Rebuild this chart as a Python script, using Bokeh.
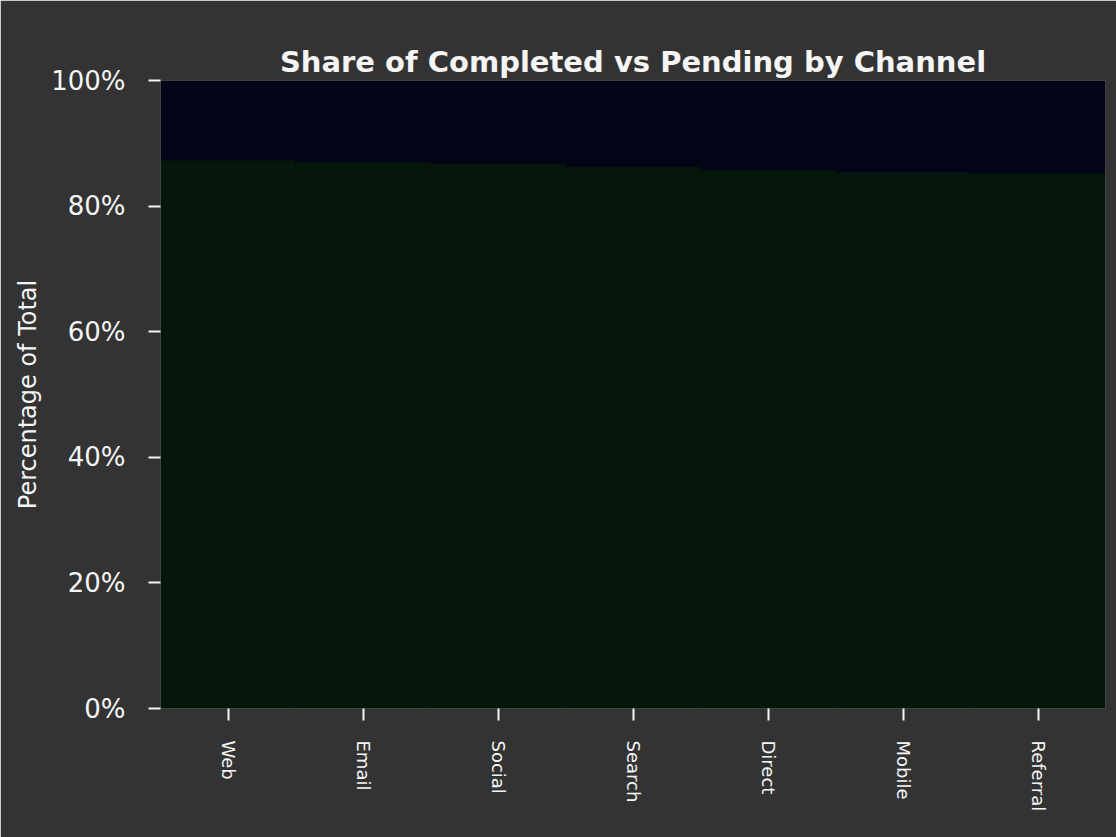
from bokeh.plotting import figure
from bokeh.models import ColumnDataSource, Range1d, FixedTicker, PrintfTickFormatter
from bokeh.embed import file_html
from bokeh.resources import INLINE

# ---- data ----
categories = ["Web", "Email", "Social", "Search", "Direct", "Mobile", "Referral"]
completed = [87.3, 87.0, 86.8, 86.3, 85.7, 85.4, 85.2]
pending = [12.7, 13.0, 13.2, 13.7, 14.3, 14.6, 14.8]
y_ticks = [0, 20, 40, 60, 80, 100]

series = ["completed", "pending"]
colors = ["#05170b", "#020517"]

source = ColumnDataSource(dict(cat=categories, completed=completed, pending=pending))

TEXT = "#f5f5f5"
BG = "#333333"

p = figure(
    x_range=categories,
    y_range=Range1d(0, 100),
    frame_width=945,
    frame_height=628,
    min_border_left=160,
    min_border_right=11,
    min_border_top=80,
    min_border_bottom=129,
    background_fill_color=BG,
    border_fill_color=BG,
    outline_line_color=None,
    output_backend="svg",
    toolbar_location=None,
    title="Share of Completed vs Pending by Channel",
)

p.vbar_stack(series, x="cat", width=1.0, source=source, fill_color=colors,
             line_color="#000000", line_alpha=0.3, line_width=1)

p.title.align = "center"
p.title.text_color = TEXT
p.title.text_font = "DejaVu Sans"
p.title.text_font_size = "29px"
p.title.text_font_style = "bold"
p.title.standoff = 4

p.xgrid.grid_line_color = None
p.ygrid.grid_line_color = None

p.yaxis.ticker = FixedTicker(ticks=y_ticks)
p.yaxis.formatter = PrintfTickFormatter(format="%d%%")
p.yaxis.axis_label = "Percentage of Total"

for ax in (p.xaxis[0], p.yaxis[0]):
    ax.axis_line_color = None
    ax.major_tick_line_color = TEXT
    ax.major_tick_line_width = 2
    ax.major_tick_out = 12
    ax.major_tick_in = 0
    ax.minor_tick_line_color = None
    ax.major_label_text_color = TEXT
    ax.major_label_text_font = "DejaVu Sans"
    ax.major_label_standoff = 20
    ax.axis_label_text_color = TEXT
    ax.axis_label_text_font = "DejaVu Sans"
    ax.axis_label_text_font_style = "normal"

p.yaxis.major_label_text_font_size = "26px"
p.yaxis.major_label_standoff = 23
p.yaxis.axis_label_text_font_size = "24px"
p.yaxis.axis_label_standoff = 6
p.xaxis.major_label_text_font_size = "18px"
p.xaxis.major_label_orientation = "vertical"

open("out.html", "w").write(file_html(p, INLINE))
